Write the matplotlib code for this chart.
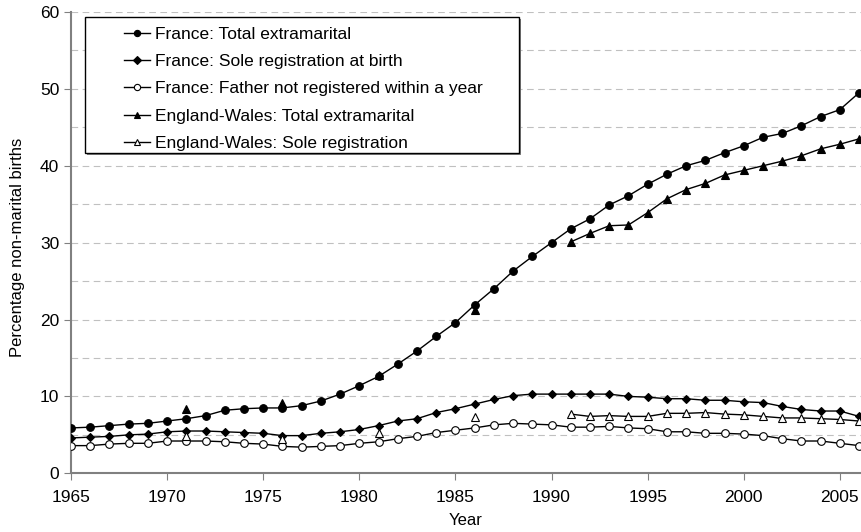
import numpy as np
import matplotlib
matplotlib.use('Agg')
import matplotlib.pyplot as plt
from matplotlib.patches import Rectangle

plt.rcParams['font.family'] = ['Liberation Sans', 'DejaVu Sans']

# Data (percent of births)
years = list(range(1965, 2007))

france_total = [5.9, 6.0, 6.2, 6.4, 6.5, 6.8, 7.1, 7.5, 8.2, 8.4,
                8.5, 8.5, 8.8, 9.4, 10.3, 11.4, 12.6, 14.2, 15.9, 17.8,
                19.6, 21.9, 24.0, 26.3, 28.2, 30.0, 31.8, 33.1, 34.9, 36.1,
                37.6, 38.9, 40.0, 40.7, 41.7, 42.6, 43.7, 44.2, 45.2, 46.4,
                47.3, 49.5]

france_sole = [4.6, 4.7, 4.8, 5.0, 5.1, 5.4, 5.5, 5.5, 5.4, 5.3,
               5.2, 4.9, 4.9, 5.2, 5.4, 5.7, 6.2, 6.8, 7.1, 7.9,
               8.4, 9.0, 9.6, 10.1, 10.3, 10.3, 10.3, 10.3, 10.3, 10.0,
               9.9, 9.7, 9.7, 9.5, 9.5, 9.3, 9.2, 8.7, 8.3, 8.1,
               8.1, 7.4]

france_father = [3.6, 3.6, 3.8, 3.9, 3.9, 4.2, 4.2, 4.2, 4.1, 3.9,
                 3.8, 3.5, 3.4, 3.5, 3.6, 3.9, 4.1, 4.5, 4.8, 5.3,
                 5.6, 5.9, 6.3, 6.5, 6.4, 6.3, 6.0, 6.0, 6.1, 5.9,
                 5.8, 5.4, 5.4, 5.2, 5.2, 5.1, 4.9, 4.5, 4.2, 4.2,
                 3.9, 3.6]

nan = np.nan
ew_total = [nan, nan, nan, nan, nan, nan, 8.4, nan, nan, nan,
            nan, 9.2, nan, nan, nan, nan, 12.8, nan, nan, nan,
            nan, 21.3, nan, nan, nan, nan, 30.1, 31.2, 32.2, 32.3,
            33.9, 35.7, 36.9, 37.7, 38.8, 39.4, 40.0, 40.6, 41.3, 42.2,
            42.8, 43.5]

ew_sole = [nan, nan, nan, nan, nan, nan, 4.8, nan, nan, nan,
           nan, 4.5, nan, nan, nan, nan, 5.3, nan, nan, nan,
           nan, 7.3, nan, nan, nan, nan, 7.7, 7.4, 7.5, 7.4,
           7.4, 7.8, 7.8, 7.9, 7.7, 7.6, 7.4, 7.2, 7.2, 7.1,
           7.0, 6.8]

FS = 12.5

fig = plt.figure(figsize=(8.61, 5.32), dpi=100)
ax = fig.add_axes([71 / 861, 1 - 473.3 / 532, 790 / 861, 461.3 / 532])

common = dict(color='black', linewidth=1.0, markeredgecolor='black',
              markeredgewidth=0.8)
ax.plot(years, france_total, marker='o', markersize=5.5, markerfacecolor='black',
        label='France: Total extramarital', zorder=3, **common)
ax.plot(years, france_sole, marker='D', markersize=4.0, markerfacecolor='black',
        label='France: Sole registration at birth', zorder=3, **common)
ax.plot(years, france_father, marker='o', markersize=5.5, markerfacecolor='white',
        label='France: Father not registered within a year', zorder=3, **common)
ax.plot(years, ew_total, marker='^', markersize=6.0, markerfacecolor='black',
        label='England-Wales: Total extramarital', zorder=4, **common)
ax.plot(years, ew_sole, marker='^', markersize=6.0, markerfacecolor='white',
        label='England-Wales: Sole registration', zorder=4, **common)

ax.set_xlim(1965, 2006.1)
ax.set_ylim(0, 60)
ax.set_xticks(range(1965, 2006, 5))
ax.set_yticks(range(0, 61, 10))
ax.set_yticks(range(0, 61, 5), minor=True)
ax.tick_params(axis='both', which='major', labelsize=FS, direction='out',
               length=5, color='#808080')
ax.tick_params(axis='x', which='major', pad=7)
ax.tick_params(axis='y', which='minor', length=0)
ax.yaxis.grid(True, which='both', linestyle=(0, (6, 4)), color='#c0c0c0',
              linewidth=0.8)
ax.set_axisbelow(True)

for side in ['top', 'right']:
    ax.spines[side].set_visible(False)
for side in ['left', 'bottom']:
    ax.spines[side].set_color('#808080')
    ax.spines[side].set_linewidth(1.5)

ax.set_xlabel('Year', fontsize=12)
ax.set_ylabel('Percentage non-marital births', fontsize=12)
ax.xaxis.set_label_coords(0.5, -0.085)
ax.yaxis.set_label_coords(-0.058, 0.49)

# Legend box drawn by hand, Excel style (frame with slight shadow)
x0 = (85 - 71) / 790
x1 = (519 - 71) / 790
y0 = (473.3 - 152.7) / 461.3
y1 = (473.3 - 17) / 461.3
ax.add_patch(Rectangle((x0 + 0.002, y0 - 0.004), x1 - x0, y1 - y0,
                       transform=ax.transAxes, facecolor='#808080',
                       edgecolor='none', zorder=5, clip_on=False))
ax.add_patch(Rectangle((x0, y0), x1 - x0, y1 - y0, transform=ax.transAxes,
                       facecolor='white', edgecolor='black', linewidth=1.0,
                       zorder=6, clip_on=False))
leg = ax.legend(loc='upper left', bbox_to_anchor=(x0 + 0.040, y1 - 0.006),
                frameon=False, fontsize=FS, handlelength=1.5,
                handletextpad=0.3, labelspacing=0.7, borderpad=0.4,
                borderaxespad=0)
leg.set_zorder(7)
for h in leg.legend_handles:
    h.set_markersize(4.5)

fig.savefig('out.png', dpi=100)
plt.close(fig)
